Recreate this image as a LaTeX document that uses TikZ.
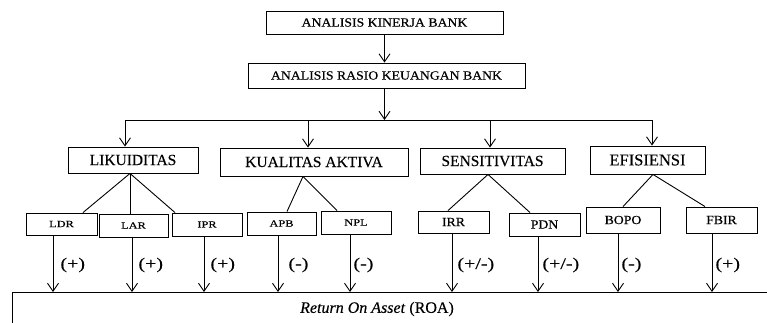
\documentclass[tikz,border=0pt]{standalone}
\usepackage{fontspec}
\setmainfont[FakeBold=0.3]{Liberation Serif}
\newfontfamily\fa[FakeStretch=1.1,FakeBold=0.4]{Liberation Serif}
\newfontfamily\fb[FakeStretch=1.3,FakeBold=0.4]{Liberation Serif}
\newfontfamily\fc[FakeStretch=1.25,FakeBold=0.3]{Liberation Serif}
\usetikzlibrary{arrows.meta}
\begin{document}
\begin{tikzpicture}[x=1pt,y=-1pt, line width=0.9pt,
  box/.style={draw, inner sep=0pt},
  topbox/.style={box, font=\fa\fontsize{12.5}{14}\selectfont},
  midbox/.style={box, font=\fontsize{15.5}{17}\selectfont, minimum height=26pt},
  lsmall/.style={box, font=\fb\fontsize{9.5}{11}\selectfont, minimum width=70pt, minimum height=23pt},
  rsmall/.style={box, font=\fa\fontsize{12.5}{14}\selectfont, minimum width=71pt},
  sign/.style={font=\fc\fontsize{16}{18}\selectfont, inner sep=0pt, anchor=west},
  arr/.style={-{Straight Barb[length=8pt,width=11pt]}}]
\useasboundingbox (0,0) rectangle (767,322);
\clip (0,0) rectangle (767,322);

% top boxes
\node[topbox, minimum width=237pt, minimum height=23pt] (k1) at (384.5,22.5) {ANALISIS KINERJA BANK};
\node[topbox, minimum width=277pt, minimum height=25pt] (k2) at (386.5,75.5) {ANALISIS RASIO KEUANGAN BANK};

% middle boxes
\node[midbox, minimum width=130pt] (lik) at (133,160) {LIKUIDITAS};
\node[midbox, minimum width=188pt, minimum height=28pt] (kua) at (314,162) {KUALITAS AKTIVA};
\node[midbox, minimum width=145pt] (sen) at (492.5,161) {SENSITIVITAS};
\node[midbox, minimum width=115pt, minimum height=28pt, font=\fontsize{16.5}{18}\selectfont] (efi) at (647.5,160) {EFISIENSI};

% small boxes
\node[lsmall, minimum width=71pt, minimum height=22pt] (ldr) at (61.5,224) {LDR};
\node[lsmall, minimum width=69pt] (lar) at (133.5,225.5) {LAR};
\node[lsmall] (ipr) at (207,224.5) {IPR};
\node[lsmall, minimum width=69pt] (apb) at (281.5,223.5) {APB};
\node[lsmall] (npl) at (356,222.5) {NPL};
\node[rsmall, minimum height=22pt] (irr) at (453.5,222) {IRR};
\node[rsmall, minimum height=23pt] (pdn) at (544.5,224.5) {PDN};
\node[rsmall, minimum width=74pt, minimum height=26pt] (bopo) at (623,220) {BOPO};
\node[rsmall, minimum height=26pt] (fbir) at (721.5,220) {FBIR};

% ROA box
\node[box, anchor=north west, minimum width=800pt, minimum height=60pt] (roa) at (12,292) {};
\node[font=\fontsize{16}{18}\selectfont, inner sep=0pt] (roat) at (377,309) {\textit{Return On Asset} (ROA)};

% top connectors
\draw[arr] (k1.south) -- (k1.south |- k2.north);
\coordinate (m1) at (125,120);
\coordinate (m2) at (308,120);
\coordinate (m3) at (490,120);
\coordinate (m4) at (652,120);
\draw[arr] (k2.south -| k1.south) -- (k1.south |- m1);
\draw (m1) -- (m4);
\draw[arr] (m1) -- (m1 |- lik.north);
\draw[arr] (m2) -- (m2 |- kua.north);
\draw[arr] (m3) -- (m3 |- sen.north);
\draw[arr] (m4) -- (m4 |- efi.north);

% tree lines
\draw ([xshift=-3pt]lik.south) -- ([xshift=21.5pt]ldr.north);
\draw ([xshift=-3pt]lik.south) -- ([xshift=-3.5pt]lar.north);
\draw ([xshift=-3pt]lik.south) -- ([xshift=-32pt]ipr.north);
\draw ([xshift=-11pt]kua.south) -- ([xshift=5.5pt]apb.north);
\draw ([xshift=-11pt]kua.south) -- ([xshift=-19pt]npl.north);
\draw ([xshift=-4.5pt]sen.south) -- ([xshift=-5.5pt]irr.north);
\draw ([xshift=-4.5pt]sen.south) -- ([xshift=-14.5pt]pdn.north);
\draw ([xshift=5.5pt]efi.south) -- (bopo.north);
\draw ([xshift=5.5pt]efi.south) -- ([xshift=-16.5pt]fbir.north);

% bottom arrows
\coordinate (e1) at ([xshift=-8.5pt]ldr.south);
\coordinate (e2) at ([xshift=-1.5pt]lar.south);
\coordinate (e3) at ([xshift=-3pt]ipr.south);
\coordinate (e4) at ([xshift=-3.5pt]apb.south);
\coordinate (e5) at ([xshift=-6pt]npl.south);
\coordinate (e6) at ([xshift=-1.5pt]irr.south);
\coordinate (e7) at ([xshift=-6.5pt]pdn.south);
\coordinate (e8) at ([xshift=-5pt]bopo.south);
\coordinate (e9) at ([xshift=-9.5pt]fbir.south);
\foreach \e in {e1,e2,e3,e4,e5,e6,e7,e8,e9}
  \draw[arr] (\e) -- (\e |- roa.north);

% sign labels
\node[sign] (s1) at (60,265) {(+)};
\node[sign] (s2) at (138,265) {(+)};
\node[sign] (s3) at (210,265) {(+)};
\node[sign] (s4) at (288,265) {(-)};
\node[sign] (s5) at (353,265) {(-)};
\node[sign] (s6) at (457,265) {(+/-)};
\node[sign] (s7) at (542,265) {(+/-)};
\node[sign] (s8) at (621,265) {(-)};
\node[sign] (s9) at (715,265) {(+)};
\end{tikzpicture}
\end{document}
